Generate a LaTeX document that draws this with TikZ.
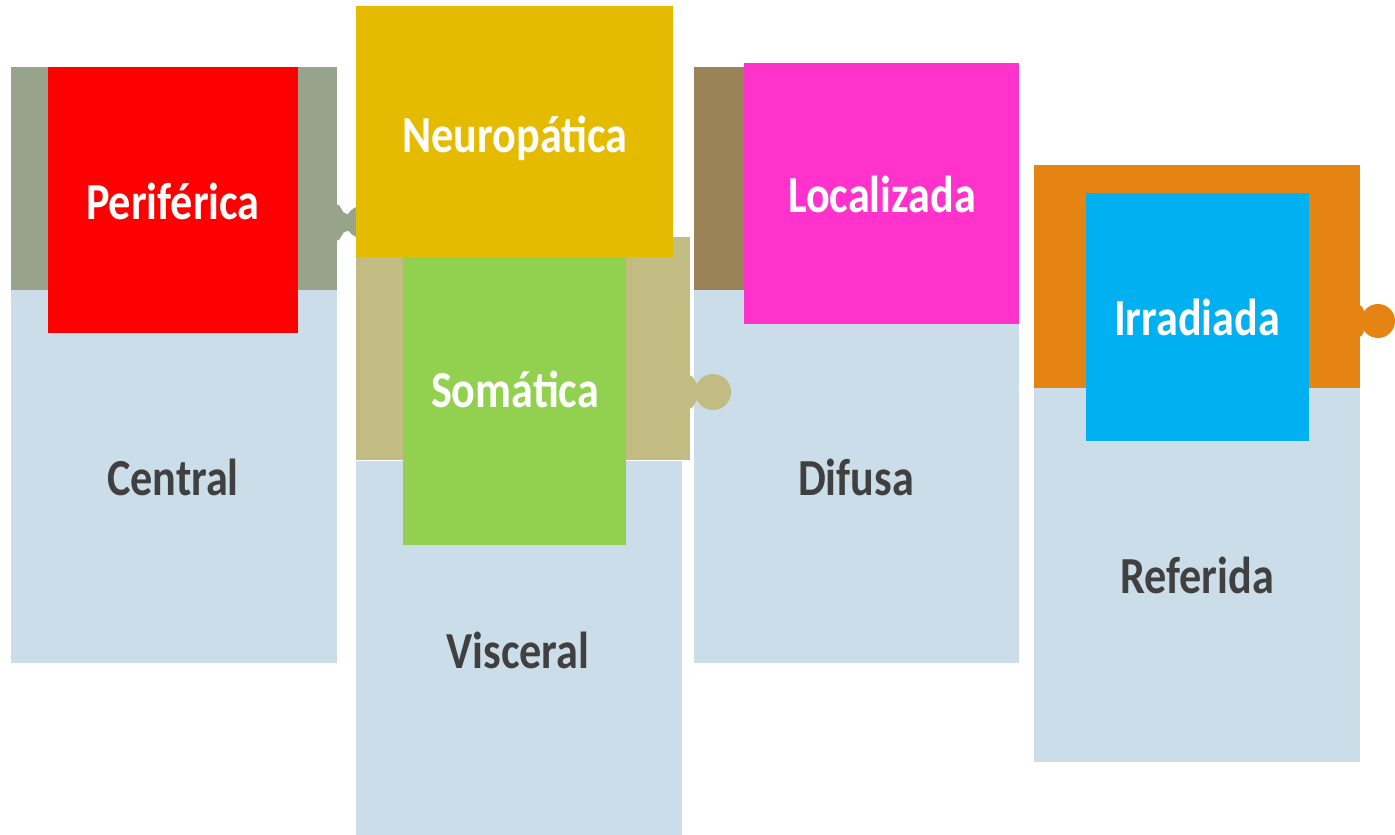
\documentclass[tikz,border=0pt]{standalone}
\usepackage{fontspec}
\setmainfont{Carlito}[FakeStretch=0.85]
\usetikzlibrary{positioning}

\definecolor{sage}{HTML}{97A38A}
\definecolor{paleblue}{HTML}{CBDDE8}
\definecolor{tomato}{HTML}{FF0000}
\definecolor{mustard}{HTML}{E5BB00}
\definecolor{khaki}{HTML}{C3BC82}
\definecolor{leaf}{HTML}{92D050}
\definecolor{umber}{HTML}{9B8358}
\definecolor{magenta}{HTML}{FF33CC}
\definecolor{amber}{HTML}{E58313}
\definecolor{sky}{HTML}{00B0F0}
\definecolor{txtgrey}{HTML}{404040}

\tikzset{
  toplabel/.style={anchor=base, text=white, font=\fontsize{52}{60}\selectfont\bfseries},
  botlabel/.style={anchor=base, text=txtgrey, font=\fontsize{52}{60}\selectfont\bfseries}
}

\begin{document}
\begin{tikzpicture}[x=1pt,y=-1pt]
        \useasboundingbox (0,0) rectangle (1395,835);
        %\draw (0,0) rectangle (1395,835);

        % first piece
        \fill[paleblue] (11,290) rectangle (337,663);
        \fill[sage] (11,67) rectangle (337,290);
        \fill[sage] (336,204) .. controls (342,204) and (341,214) .. (347,214) -- (352,214) -- (352,231) -- (347,231) .. controls (341,231) and (342,241) .. (336,241) -- cycle;
        \fill[sage] (362,222) circle[radius=16pt];

        % third piece
        \fill[paleblue] (694,290) rectangle (1019,663);
        \fill[umber] (694,67) rectangle (1019,290);

        % second piece
        \fill[paleblue] (356,461) rectangle (682,835);
        \fill[khaki] (356,237) rectangle (690,460);
        \fill[khaki] (689,375) .. controls (695,375) and (694,385) .. (700,385) -- (702,385) -- (702,399) -- (700,399) .. controls (694,399) and (695,409) .. (689,409) -- cycle;
        \fill[khaki] (713,392) circle[radius=18pt];

        % fourth piece
        \fill[paleblue] (1034,388) rectangle (1360,762);
        \fill[amber] (1034,165) rectangle (1360,388);
        \fill[amber] (1359,305) .. controls (1364,305) and (1363,314) .. (1367,314) -- (1368,314) -- (1368,328) -- (1367,328) .. controls (1363,328) and (1364,337) .. (1359,337) -- cycle;
        \fill[amber] (1378,321) circle[radius=17pt];

        % coloured squares
        \fill[tomato] (48,67) rectangle (298,333);
        \fill[mustard] (356,6) rectangle (673,257);
        \fill[leaf] (403,257) rectangle (626,545);
        \fill[magenta] (744,63) rectangle (1019,324);
        \fill[sky] (1086,193) rectangle (1309,441);

        \node [toplabel] (periferica) at (173,219) {Periférica};
        \node [botlabel] (central) at (173,495) {Central};
        \node [toplabel] (neuropatica) at (515,152) {Neuropática};
        \node [toplabel] (somatica) at (515,407) {Somática};
        \node [botlabel] (visceral) at (518,668) {Visceral};
        \node [toplabel] (localizada) at (882,212) {Localizada};
        \node [botlabel] (difusa) at (856,495) {Difusa};
        \node [toplabel] (irradiada) at (1197,335) {Irradiada};
        \node [botlabel] (referida) at (1197,593) {Referida};
\end{tikzpicture}
\end{document}
